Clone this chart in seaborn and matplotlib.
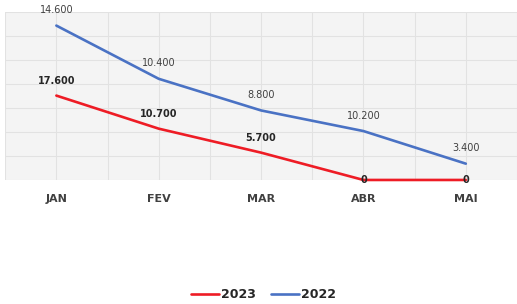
import matplotlib
matplotlib.use("Agg")
import matplotlib.pyplot as plt
import seaborn as sns
import pandas as pd
import numpy as np
from matplotlib.ticker import MultipleLocator
from matplotlib.lines import Line2D

meses = ["JAN", "FEV", "MAR", "ABR", "MAI"]
valores_2023 = [17.6, 10.7, 5.7, 0, 0]
valores_2022 = [14.6, 10.4, 8.8, 10.2, 3.4]
rotulos_2023 = ["17.600", "10.700", "5.700", "0", "0"]
rotulos_2022 = ["14.600", "10.400", "8.800", "10.200", "3.400"]

# linhas empilhadas: 2022 fica por cima de 2023
topo_2022 = list(np.array(valores_2023) + np.array(valores_2022))

df = pd.DataFrame({
    "mes": meses * 2,
    "pos": list(range(len(meses))) * 2,
    "valor": valores_2023 + topo_2022,
    "ano": ["2023"] * len(meses) + ["2022"] * len(meses),
})

sns.set_style("white")
plt.rcParams['font.family'] = ['DejaVu Sans']

fig = plt.figure(figsize=(5.17, 3.04), dpi=100)
ax = fig.add_axes([0.01, 0.408, 0.99, 0.552])
ax.set_facecolor("#f4f4f4")

cores = {"2023": "#ee1c25", "2022": "#4a72c4"}
sns.lineplot(data=df, x="pos", y="valor", hue="ano", palette=cores,
             linewidth=1.9, ax=ax, legend=False)
for ln in ax.lines:
    ln.set_clip_on(False)

ax.set_xlim(-0.5, 4.5)
ax.set_ylim(0, 35)
ax.yaxis.set_major_locator(MultipleLocator(5))
ax.xaxis.set_major_locator(MultipleLocator(1))
ax.xaxis.set_minor_locator(MultipleLocator(0.5))
ax.grid(True, which="both", color="#e2e2e2", linewidth=0.8)
ax.set_axisbelow(True)
for s in ax.spines.values():
    s.set_visible(False)
ax.set_yticklabels([])
ax.tick_params(axis="y", length=0)
ax.set_xticks(range(len(meses)))
ax.set_xticklabels(meses, fontsize=8, fontweight="bold", color="#404040")
ax.tick_params(axis="x", length=0, pad=10)
ax.set_xlabel("")
ax.set_ylabel("")

# rotulos de dados
for i, (y, r) in enumerate(zip(topo_2022, rotulos_2022)):
    ax.text(i, y + 3.2, r, ha="center", va="center",
            fontsize=7, color="#404040")
for i, (y, r) in enumerate(zip(valores_2023, rotulos_2023)):
    dy = 3.0 if y > 0 else 0
    ax.text(i, y + dy, r, ha="center", va="center", fontsize=7,
            fontweight="bold", color="#262626")

# legenda
handles = [Line2D([], [], color=cores["2023"], linewidth=1.9),
           Line2D([], [], color=cores["2022"], linewidth=1.9)]
fig.legend(handles, ["2023", "2022"], loc="center", bbox_to_anchor=(0.51, 0.03),
           ncol=2, frameon=False, handlelength=2.2, handletextpad=0.2,
           columnspacing=1.2, prop={"size": 9, "weight": "bold"})

fig.savefig("out.png", dpi=100)
